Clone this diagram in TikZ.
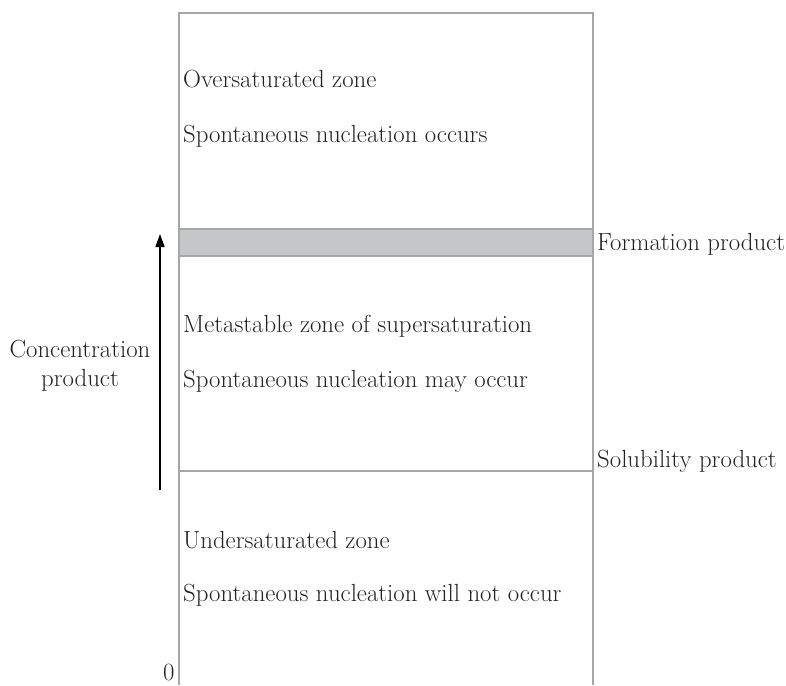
\documentclass[tikz,border=0pt]{standalone}
\usepackage{tikz}
\usetikzlibrary{arrows.meta,positioning}
\definecolor{framegray}{HTML}{A4A6A8}
\definecolor{bandgray}{HTML}{C4C6C8}
\definecolor{textgray}{HTML}{222222}

\begin{document}
\begin{tikzpicture}[
  x=1pt, y=-1pt,
  zonetext/.style={anchor=base west, inner sep=0pt, text=textgray,
    font=\fontsize{24.8}{29}\selectfont},
  levellabel/.style={zonetext},
  frame/.style={draw=framegray, line width=1.5pt},
  axis/.style={-{Triangle[length=13pt,width=9pt]}, line width=1.3pt, black}
]
  \useasboundingbox (0,0) rectangle (786,685);

  % Frame and levels
  \draw[frame] (179,685) -- (179,13) -- (593,13) -- (593,685);
  \draw[frame, fill=bandgray] (179,229) rectangle (593,256);
  \draw[frame] (179,471) -- (593,471);

  % Zone texts
  \node[zonetext] (over) at (183,87) {Oversaturated zone};
  \node[zonetext] (overnote) at (183,142) {Spontaneous nucleation occurs};
  \node[zonetext] (meta) at (183,332) {Metastable zone of supersaturation};
  \node[zonetext] (metanote) at (183,387) {Spontaneous nucleation may occur};
  \node[zonetext] (under) at (183,548) {Undersaturated zone};
  \node[zonetext] (undernote) at (183,601) {Spontaneous nucleation will not occur};

  % Level labels
  \node[levellabel] (formation) at (597,250) {Formation product};
  \node[levellabel] (solubility) at (597,467) {Solubility product};
  \node[levellabel] (zero) at (163,680) {0};

  % Axis
  \node[text=textgray, font=\fontsize{24.8}{29}\selectfont, align=center, inner sep=0pt]
    (conc) at (80,366) {Concentration\\product};
  \coordinate (axisfoot) at (160,490);
  \coordinate (axishead) at (160,234);
  \draw[axis] (axisfoot) -- (axishead);
\end{tikzpicture}
\end{document}
